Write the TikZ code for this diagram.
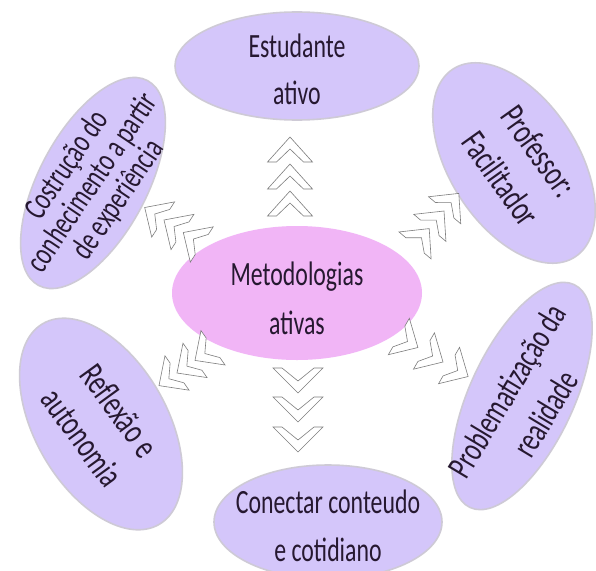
\documentclass[tikz,border=0pt]{standalone}
\usepackage{fontspec}
\setmainfont{Carlito}[FakeStretch=0.7]
\usetikzlibrary{shapes.geometric}
\definecolor{lav}{RGB}{212,198,250}
\definecolor{lavborder}{RGB}{206,202,214}
\definecolor{pinkc}{RGB}{241,181,246}
\definecolor{txt}{RGB}{38,24,48}
\definecolor{chevgray}{RGB}{125,125,125}
\newcommand\mychev[5]{%
  \draw[chevline,shift={(#1,#2)},rotate=#3] (0,0) -- ({-#4},{#5}) -- ({-#4},{#5-9}) -- (-12,0) -- ({-#4},{-#5+9}) -- ({-#4},{-#5}) -- cycle;}
\begin{document}
\begin{tikzpicture}[x=1pt,y=-1pt,
  bub/.style={ellipse, draw=lavborder, line width=1.6pt, fill=lav, inner sep=0pt},
  hub/.style={ellipse, fill=pinkc, inner sep=0pt},
  lbl/.style={text=txt, align=center, inner sep=0pt},
  chevline/.style={draw=chevgray, line width=0.6pt, fill=white, line join=miter}]
\useasboundingbox[fill=white] (0,0) rectangle (596,570);

% outer ellipses
\node[bub, minimum width=244, minimum height=108] (top) at (297,66) {};
\node[bub, minimum width=232, minimum height=108, rotate=62] (tl) at (93,183) {};
\node[bub, minimum width=224, minimum height=128, rotate=-57] (tr) at (514,163) {};
\node[bub, minimum width=232, minimum height=132, rotate=-60] (bl) at (101,424) {};
\node[bub, minimum width=246, minimum height=104, rotate=65] (br) at (522,396) {};
\node[bub, minimum width=228, minimum height=114] (bot) at (328,522) {};
% centre
\node[hub, minimum width=250, minimum height=134] (c) at (297,293) {};

% texts
\node[lbl, font={\fontsize{34}{47}\selectfont}] (ttop) at (297,69) {Estudante\\ativo};
\node[lbl, font={\fontsize{34}{49}\selectfont}] (tc) at (297,298) {Metodologias\\ativas};
\node[lbl, font={\fontsize{34}{48}\selectfont}] (tbot) at (328,526) {Conectar conteudo\\e cotidiano};
\node[lbl, font={\fontsize{33}{31}\selectfont}, rotate=56] (ttl) at (93,183) {Costrução do\\conhecimento a partir\\de experiência};
\node[lbl, font={\fontsize{36}{47}\selectfont}, rotate=-54.5] (ttr) at (520,165) {Professor:\\Facilitador};
\node[lbl, font={\fontsize{36}{46}\selectfont}, rotate=-54] (tbl) at (101,424) {Reflexão e\\autonomia};
\node[lbl, font={\fontsize{35}{45}\selectfont}, rotate=59] (tbr) at (526,402) {Problematização da\\realidade};

% chevrons: up
\mychev{290}{137}{90}{25}{22.5}
\mychev{290}{164}{90}{25}{22.5}
\mychev{290}{191}{90}{25}{22.5}
% down
\mychev{298}{393}{-90}{25}{25}
\mychev{298}{422}{-90}{25}{25}
\mychev{298}{452}{-90}{25}{25}
% upper left
\mychev{144.7}{207.5}{147}{22}{21}
\mychev{164}{220}{147}{22}{21}
\mychev{183.3}{232.5}{147}{22}{21}
% upper right
\mychev{458.8}{193.4}{50}{22}{21}
\mychev{444}{211}{50}{22}{21}
\mychev{429.2}{228.6}{50}{22}{21}
% lower left
\mychev{159}{385.6}{215}{22}{21}
\mychev{177}{373}{215}{22}{21}
\mychev{195}{360.4}{215}{22}{21}
% lower right
\mychev{468.1}{376.5}{-30}{22}{21}
\mychev{443}{362}{-30}{22}{21}
\mychev{417.9}{347.5}{-30}{22}{21}
\end{tikzpicture}
\end{document}
